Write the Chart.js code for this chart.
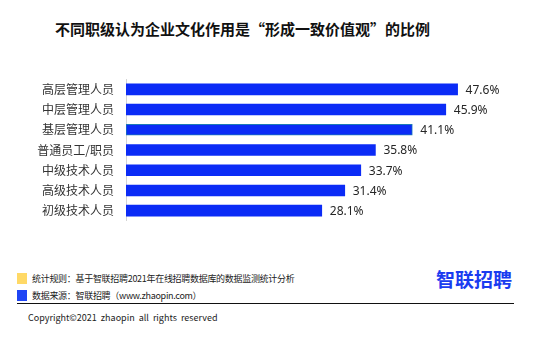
<!DOCTYPE html>
<html>
<head>
<meta charset="utf-8">
<script src="https://cdn.jsdelivr.net/npm/chart.js@4/dist/chart.umd.min.js"></script>
<style>
  html, body { margin: 0; padding: 0; background: #fff; }
  body { width: 554px; height: 364px; position: relative; overflow: hidden;
         font-family: "Noto Sans CJK SC", "Noto Sans", sans-serif; }
  .title { position: absolute; left: 55px; top: 18px; font-size: 15px; font-weight: bold; color: #111; white-space: nowrap; }
  .chart { position: absolute; left: 0; top: 60px; width: 554px; height: 180px; }
  .sq { position: absolute; left: 17px; width: 10px; height: 11px; }
  .note { position: absolute; left: 32px; font-size: 9px; letter-spacing: -0.3px; color: #222; white-space: nowrap; }
  .rule { position: absolute; left: 17px; top: 303px; width: 497px; height: 0; border-top: 1px solid #111; }
  .copy { position: absolute; left: 28px; top: 311px; font-size: 9px; color: #222; white-space: pre; }
  .logo { position: absolute; left: 436px; top: 265px; font-size: 19px; font-weight: bold; color: #1a3cf0; white-space: nowrap; }
</style>
</head>
<body>
<div class="title">不同职级认为企业文化作用是“形成一致价值观”的比例</div>
<div class="chart"><canvas id="barChart"></canvas></div>
<div class="sq" style="top:273px;background:#ffd966"></div>
<div class="note" style="top:272px">统计规则：基于智联招聘2021年在线招聘数据库的数据监测统计分析</div>
<div class="sq" style="top:290px;background:#1f45f5"></div>
<div class="note" style="top:289px">数据来源：智联招聘（www.zhaopin.com）</div>
<div class="logo">智联招聘</div>
<div class="rule"></div>
<div class="copy">Copyright©2021  zhaopin  all  rights  reserved</div>
<script>
'use strict';

const levels = ['高层管理人员', '中层管理人员', '基层管理人员', '普通员工/职员', '中级技术人员', '高级技术人员', '初级技术人员'];
const shares = [47.6, 45.9, 41.1, 35.8, 33.7, 31.4, 28.1];

const valueLabels = {
  id: 'valueLabels',
  afterDatasetsDraw(chart) {
    const ctx = chart.ctx;
    const meta = chart.getDatasetMeta(0);
    ctx.save();
    ctx.font = '12px "Noto Sans", "DejaVu Sans", sans-serif';
    ctx.fillStyle = '#262626';
    ctx.textAlign = 'left';
    ctx.textBaseline = 'middle';
    meta.data.forEach((bar, i) => {
      ctx.fillText(shares[i].toFixed(1) + '%', bar.x + 8, bar.y + 1);
    });
    ctx.restore();
  },
};

new Chart(document.getElementById('barChart'), {
  type: 'bar',
  data: {
    labels: levels,
    datasets: [{
      data: shares,
      backgroundColor: '#0b2bf6',
      borderColor: ['#0b2bf6', '#0b2bf6', '#1c7ab8', '#0b2bf6', '#0b2bf6', '#0b2bf6', '#0b2bf6'],
      borderWidth: [0, 0, 1, 0, 0, 0, 0],
      borderSkipped: false,
      barThickness: 11,
    }],
  },
  options: {
    indexAxis: 'y',
    responsive: true,
    maintainAspectRatio: false,
    animation: false,
    layout: { padding: { top: 9, bottom: 12, left: 0, right: 10 } },
    plugins: { legend: { display: false }, tooltip: { enabled: false } },
    scales: {
      x: { display: false, min: 0, max: 60 },
      y: {
        afterFit(scale) { scale.width = 126; },
        grid: { display: false, drawTicks: false },
        border: { display: true, color: '#d4d4d4', width: 1 },
        ticks: {
          padding: 12,
          color: '#333',
          font: { size: 12, family: '"Noto Sans CJK SC", sans-serif' },
        },
      },
    },
  },
  plugins: [valueLabels],
});
</script>
</body>
</html>
